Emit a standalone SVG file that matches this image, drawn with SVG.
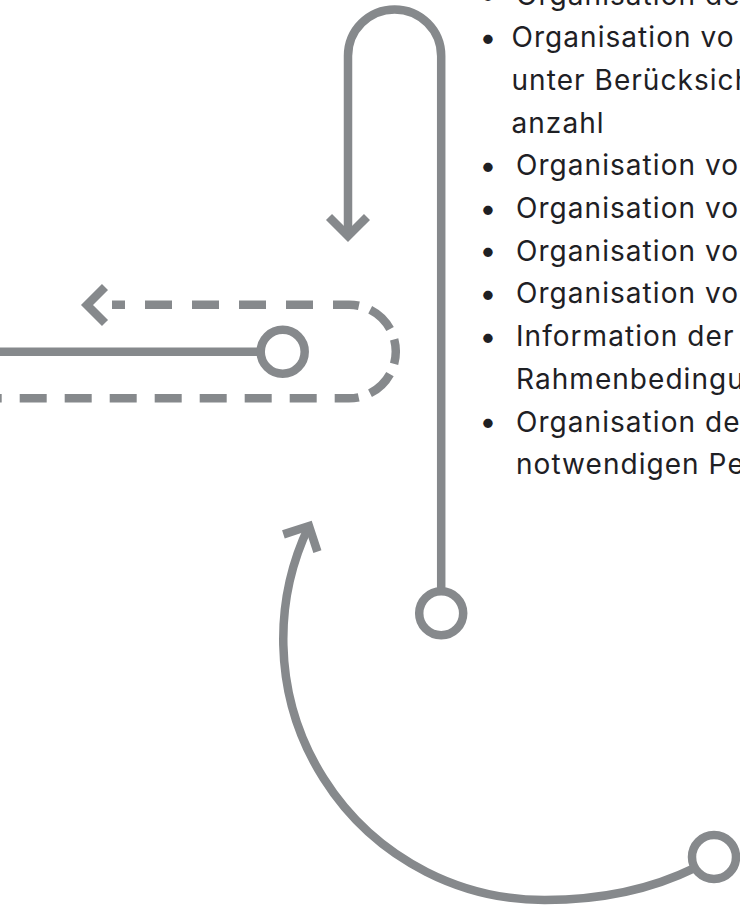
<svg xmlns="http://www.w3.org/2000/svg" width="740" height="905" viewBox="0 0 740 905">
  <style>
    .ln { fill: none; stroke: #86898c; stroke-width: 8.5; stroke-linecap: butt; stroke-linejoin: miter; }
    .nd { fill: #ffffff; stroke: #86898c; stroke-width: 8.5; }
    .tx { font-family: "Inter", "Liberation Sans", sans-serif; font-size: 28px; letter-spacing: 1.05px; fill: #1e2024; }
    .bl { font-family: "Inter", "Liberation Sans", sans-serif; font-size: 30px; fill: #1e2024; text-anchor: middle; }
  </style>
  <rect width="740" height="905" fill="#ffffff"/>

  <g id="connectors">
    <!-- U-turn arrow from bottom circle up and down to arrowhead -->
    <path class="ln" d="M 441.2 591.3 V 56 A 46.6 46.6 0 0 0 348 56 V 232"/>
    <path class="ln" d="M 329 217 L 348 236 L 367 217"/>
    <!-- solid horizontal line to circle -->
    <path class="ln" d="M 0 351.7 H 260.7"/>
    <!-- dashed loop -->
    <path class="ln" d="M 349 304.7 H 112" stroke-dasharray="27 20" stroke-dashoffset="11"/>
    <path class="ln" d="M 349 304.7 A 46.8 46.8 0 0 1 349 398.3" stroke-dasharray="10 12 28 11 25 11 28 12 10"/>
    <path class="ln" d="M 349 398.3 H 0" stroke-dasharray="27 18" stroke-dashoffset="12.7"/>
    <path class="ln" d="M 105 287 L 87 305 L 105 323"/>
    <!-- big curved arrow -->
    <path class="ln" d="M 309 526 A 261 261 0 0 0 545 900 C 600 900 650 890 694.9 867.9"/>
    <path class="ln" d="M 283.4 534.4 L 309 526 L 317.4 551.6"/>
  </g>

  <g id="node-circle-left">
    <circle class="nd" cx="282.7" cy="351.7" r="22"/>
  </g>
  <g id="node-circle-middle">
    <circle class="nd" cx="441.2" cy="613.3" r="22"/>
  </g>
  <g id="node-circle-bottom">
    <circle class="nd" cx="714" cy="857" r="22"/>
  </g>

  <g id="text-list">
    <text class="bl" x="488" y="5">•</text>
    <text class="tx" x="516" y="4.5">Organisation de</text>
    <text class="bl" x="488" y="47.7">•</text>
    <text class="tx" x="511.5" y="47.2">Organisation vo</text>
    <text class="tx" x="511.5" y="89.9">unter Berücksich</text>
    <text class="tx" x="511.5" y="132.6">anzahl</text>
    <text class="bl" x="488" y="175.8">•</text>
    <text class="tx" x="516" y="175.3">Organisation vo</text>
    <text class="bl" x="488" y="218.5">•</text>
    <text class="tx" x="516" y="218">Organisation vo</text>
    <text class="bl" x="488" y="261.2">•</text>
    <text class="tx" x="516" y="260.7">Organisation vo</text>
    <text class="bl" x="488" y="303.9">•</text>
    <text class="tx" x="516" y="303.4">Organisation vo</text>
    <text class="bl" x="488" y="346.6">•</text>
    <text class="tx" x="516" y="346.1">Information der</text>
    <text class="tx" x="516" y="388.8">Rahmenbedingu</text>
    <text class="bl" x="488" y="432">•</text>
    <text class="tx" x="516" y="431.5">Organisation de</text>
    <text class="tx" x="516" y="474.2">notwendigen Pe</text>
  </g>
</svg>
